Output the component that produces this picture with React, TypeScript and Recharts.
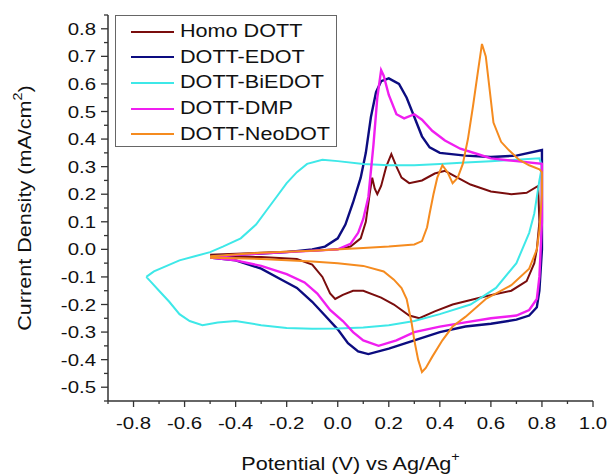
import { Label, Legend, Line, LineChart, XAxis, YAxis } from "recharts";

// cyclic voltammograms, [potential V, current density mA/cm2], traced in scan order
const homoDott: [number, number][] = [
  [-0.5, -0.02], [-0.3, -0.012], [-0.1, -0.005], [0.0, 0.0], [0.05, 0.01], [0.09, 0.04],
  [0.11, 0.1], [0.125, 0.2], [0.135, 0.26], [0.145, 0.22], [0.155, 0.2], [0.17, 0.23],
  [0.19, 0.3], [0.21, 0.345], [0.23, 0.3], [0.25, 0.26], [0.28, 0.24], [0.33, 0.25],
  [0.38, 0.275], [0.42, 0.285], [0.46, 0.265], [0.52, 0.235], [0.6, 0.21], [0.68, 0.2],
  [0.74, 0.205], [0.785, 0.23], [0.79, 0.1], [0.78, 0.0], [0.77, -0.05], [0.74, -0.115],
  [0.68, -0.15], [0.58, -0.17], [0.45, -0.2], [0.38, -0.225], [0.32, -0.25], [0.28, -0.24],
  [0.22, -0.2], [0.17, -0.175], [0.1, -0.15], [0.06, -0.15], [0.02, -0.165], [-0.01, -0.18],
  [-0.03, -0.16], [-0.06, -0.1], [-0.1, -0.055], [-0.16, -0.035], [-0.3, -0.028], [-0.5, -0.025],
];

const dottEdot: [number, number][] = [
  [-0.5, -0.025], [-0.4, -0.02], [-0.3, -0.015], [-0.2, -0.01], [-0.1, 0.0], [-0.05, 0.01],
  [0.0, 0.04], [0.03, 0.09], [0.06, 0.17], [0.09, 0.26], [0.11, 0.35], [0.13, 0.48],
  [0.15, 0.57], [0.17, 0.61], [0.2, 0.62], [0.24, 0.6], [0.27, 0.55], [0.3, 0.48],
  [0.33, 0.41], [0.36, 0.37], [0.4, 0.35], [0.5, 0.34], [0.6, 0.335], [0.7, 0.34],
  [0.8, 0.36], [0.8, 0.2], [0.8, 0.0], [0.79, -0.15], [0.78, -0.21], [0.75, -0.24],
  [0.7, -0.255], [0.6, -0.27], [0.5, -0.28], [0.4, -0.3], [0.3, -0.33], [0.2, -0.36],
  [0.12, -0.38], [0.08, -0.37], [0.04, -0.34], [0.0, -0.29], [-0.05, -0.24], [-0.1, -0.19],
  [-0.16, -0.14], [-0.22, -0.11], [-0.3, -0.07], [-0.4, -0.04], [-0.5, -0.03],
];

const dottBiedot: [number, number][] = [
  [-0.75, -0.1], [-0.72, -0.08], [-0.67, -0.06], [-0.62, -0.04], [-0.56, -0.025], [-0.5, -0.01],
  [-0.45, 0.01], [-0.38, 0.04], [-0.32, 0.09], [-0.28, 0.14], [-0.24, 0.19], [-0.2, 0.24],
  [-0.16, 0.28], [-0.12, 0.31], [-0.06, 0.325], [0.0, 0.32], [0.1, 0.31], [0.2, 0.305],
  [0.3, 0.305], [0.4, 0.31], [0.5, 0.315], [0.6, 0.32], [0.7, 0.325], [0.79, 0.33],
  [0.8, 0.3], [0.79, 0.25], [0.77, 0.13], [0.75, 0.06], [0.7, -0.05], [0.62, -0.14],
  [0.52, -0.2], [0.4, -0.235], [0.3, -0.26], [0.2, -0.275], [0.1, -0.283], [0.0, -0.287],
  [-0.1, -0.288], [-0.2, -0.285], [-0.3, -0.275], [-0.4, -0.26], [-0.47, -0.265],
  [-0.53, -0.275], [-0.58, -0.26], [-0.62, -0.235], [-0.66, -0.19], [-0.7, -0.15],
  [-0.73, -0.12], [-0.75, -0.1],
];

const dottDmp: [number, number][] = [
  [-0.5, -0.03], [-0.4, -0.02], [-0.2, -0.01], [0.0, 0.0], [0.05, 0.02], [0.08, 0.06],
  [0.1, 0.11], [0.12, 0.19], [0.14, 0.38], [0.155, 0.55], [0.17, 0.65], [0.18, 0.63],
  [0.2, 0.56], [0.23, 0.49], [0.26, 0.475], [0.3, 0.49], [0.33, 0.47], [0.37, 0.43],
  [0.42, 0.395], [0.48, 0.365], [0.55, 0.345], [0.6, 0.33], [0.7, 0.32], [0.8, 0.31],
  [0.8, 0.1], [0.79, -0.1], [0.78, -0.18], [0.75, -0.22], [0.7, -0.24], [0.6, -0.25],
  [0.5, -0.265], [0.4, -0.28], [0.3, -0.3], [0.23, -0.33], [0.16, -0.35], [0.1, -0.33],
  [0.06, -0.3], [0.02, -0.26], [-0.03, -0.22], [-0.08, -0.16], [-0.13, -0.12], [-0.2, -0.09],
  [-0.3, -0.06], [-0.4, -0.04], [-0.5, -0.03],
];

const dottNeodot: [number, number][] = [
  [-0.5, -0.025], [-0.3, -0.012], [-0.1, -0.005], [0.1, 0.005], [0.2, 0.01], [0.3, 0.018],
  [0.33, 0.03], [0.35, 0.08], [0.36, 0.13], [0.375, 0.2], [0.39, 0.26], [0.41, 0.305],
  [0.43, 0.28], [0.45, 0.24], [0.47, 0.26], [0.49, 0.31], [0.51, 0.4], [0.53, 0.52],
  [0.55, 0.65], [0.565, 0.745], [0.58, 0.7], [0.595, 0.58], [0.61, 0.46], [0.64, 0.39],
  [0.67, 0.36], [0.71, 0.325], [0.75, 0.305], [0.79, 0.29], [0.8, 0.28], [0.8, 0.2],
  [0.79, 0.07], [0.78, 0.0], [0.75, -0.07], [0.68, -0.13], [0.58, -0.18], [0.5, -0.245],
  [0.45, -0.28], [0.41, -0.33], [0.37, -0.39], [0.345, -0.43], [0.33, -0.445], [0.315, -0.4],
  [0.3, -0.33], [0.29, -0.27], [0.27, -0.18], [0.25, -0.14], [0.22, -0.11], [0.18, -0.08],
  [0.1, -0.06], [0.0, -0.05], [-0.1, -0.044], [-0.3, -0.035], [-0.5, -0.03],
];

const seriesNames = ["Homo DOTT", "DOTT-EDOT", "DOTT-BiEDOT", "DOTT-DMP", "DOTT-NeoDOT"];
const seriesData = [homoDott, dottEdot, dottBiedot, dottDmp, dottNeodot];
const seriesColors = ["#7a0d0d", "#0c0c80", "#3ee8e8", "#f01ef0", "#f58b1f"];
const seriesWidths = [2, 2.4, 2, 2.4, 2];

const xMajorTicks = [-0.8, -0.6, -0.4, -0.2, 0.0, 0.2, 0.4, 0.6, 0.8, 1.0];
const xMinorTicks = [-0.9, -0.7, -0.5, -0.3, -0.1, 0.1, 0.3, 0.5, 0.7, 0.9];
const xTickLabels = ["-0.8", "-0.6", "-0.4", "-0.2", "0.0", "0.2", "0.4", "0.6", "0.8", "1.0"];
const yMajorTicks = [-0.5, -0.4, -0.3, -0.2, -0.1, 0.0, 0.1, 0.2, 0.3, 0.4, 0.5, 0.6, 0.7, 0.8];
const yMinorTicks = [-0.55, -0.45, -0.35, -0.25, -0.15, -0.05, 0.05, 0.15, 0.25, 0.35, 0.45, 0.55, 0.65, 0.75, 0.85];
const yTickLabels = ["-0.5", "-0.4", "-0.3", "-0.2", "-0.1", "0.0", "0.1", "0.2", "0.3", "0.4", "0.5", "0.6", "0.7", "0.8"];

const FONT = "'Liberation Sans', Arial, sans-serif";
const AXIS = "#333";
const STRETCH = 1.2; // the source figure's text is horizontally stretched

const toPoints = (rows: [number, number][]) => rows.map(([x, y]) => ({ x, y }));
const findMajor = (list: number[], v: number) => list.findIndex((t) => Math.abs(t - v) < 1e-6);

function WideText({ x, y, anchor, size, rotate, children }: any) {
  return (
    <g transform={`translate(${x},${y})${rotate ? ` rotate(${rotate})` : ""} scale(${STRETCH},1)`}>
      <text x={0} y={0} textAnchor={anchor} fontSize={size} fontFamily={FONT} fill="#111">
        {children}
      </text>
    </g>
  );
}

function XTick(props: any) {
  const { x, y, payload } = props;
  const i = findMajor(xMajorTicks, payload.value);
  const major = i >= 0;
  return (
    <g>
      <line x1={x} x2={x} y1={y} y2={y + (major ? 6 : 3)} stroke={AXIS} strokeWidth={1.3} />
      {major && (
        <WideText x={x} y={y + 28} anchor="middle" size={17}>
          {xTickLabels[i]}
        </WideText>
      )}
    </g>
  );
}

function YTick(props: any) {
  const { x, y, payload } = props;
  const i = findMajor(yMajorTicks, payload.value);
  const major = i >= 0;
  return (
    <g>
      <line x1={x} x2={x - (major ? 7 : 4)} y1={y} y2={y} stroke={AXIS} strokeWidth={1.3} />
      {major && (
        <WideText x={x - 12} y={y + 6} anchor="end" size={17}>
          {yTickLabels[i]}
        </WideText>
      )}
    </g>
  );
}

function LegendBox(props: any) {
  const items = [...(props.payload ?? [])].sort(
    (a: any, b: any) => seriesNames.indexOf(a.value) - seriesNames.indexOf(b.value)
  );
  return (
    <div
      style={{
        border: "1px solid #666",
        background: "#fff",
        width: 222,
        height: 132,
        paddingTop: 3,
        boxSizing: "border-box",
        fontFamily: FONT,
        fontSize: 18,
        color: "#111",
      }}
    >
      {items.map((item: any) => (
        <div key={item.value} style={{ display: "flex", alignItems: "center", height: 25.6 }}>
          <svg width={64} height={10} style={{ flex: "none" }}>
            <line x1={15} x2={58} y1={5} y2={5} stroke={item.color} strokeWidth={2} />
          </svg>
          <span
            style={{
              whiteSpace: "nowrap",
              display: "inline-block",
              transform: `scaleX(${STRETCH})`,
              transformOrigin: "left center",
            }}
          >
            {item.value}
          </span>
        </div>
      ))}
    </div>
  );
}

export default function App() {
  return (
    <div style={{ position: "absolute", left: 0, top: 0, width: 611, height: 476, background: "#fff" }}>
      <LineChart width={611} height={476} margin={{ top: 15, right: 18, bottom: 0, left: 0 }}>
        <XAxis
          type="number"
          dataKey="x"
          domain={[-0.9, 1.0]}
          ticks={[...xMinorTicks, ...xMajorTicks].sort((a, b) => a - b)}
          tick={<XTick />}
          tickSize={0}
          tickMargin={0}
          tickLine={false}
          height={75}
          interval={0}
          allowDataOverflow
          axisLine={{ stroke: AXIS, strokeWidth: 1.5 }}
        >
          <Label
            content={(p: any) => {
              const vb = p.viewBox;
              return (
                <WideText x={vb.x + vb.width / 2} y={vb.y + 69} anchor="middle" size={18}>
                  Potential (V) vs Ag/Ag
                  <tspan dy={-9} fontSize={12}>+</tspan>
                </WideText>
              );
            }}
          />
        </XAxis>
        <YAxis
          type="number"
          dataKey="y"
          domain={[-0.55, 0.85]}
          ticks={[...yMinorTicks, ...yMajorTicks].sort((a, b) => a - b)}
          tick={<YTick />}
          tickSize={0}
          tickMargin={0}
          tickLine={false}
          width={108}
          interval={0}
          allowDataOverflow
          axisLine={{ stroke: AXIS, strokeWidth: 1.5 }}
        >
          <Label
            content={(p: any) => {
              const vb = p.viewBox;
              return (
                <WideText
                  x={vb.x + 31}
                  y={vb.y + vb.height / 2}
                  rotate={-90}
                  anchor="middle"
                  size={18}
                >
                  Current Density (mA/cm
                  <tspan dy={-9} fontSize={12}>2</tspan>
                  <tspan dy={9}>)</tspan>
                </WideText>
              );
            }}
          />
        </YAxis>
        <Legend
          layout="vertical"
          align="center"
          verticalAlign="middle"
          content={<LegendBox />}
          wrapperStyle={{ left: 115, top: 15, width: 222, height: 132 }}
        />
        {seriesData.map((rows, i) => (
          <Line
            key={seriesNames[i]}
            data={toPoints(rows)}
            dataKey="y"
            name={seriesNames[i]}
            type="linear"
            stroke={seriesColors[i]}
            strokeWidth={seriesWidths[i]}
            dot={false}
            activeDot={false}
            isAnimationActive={false}
          />
        ))}
      </LineChart>
    </div>
  );
}
